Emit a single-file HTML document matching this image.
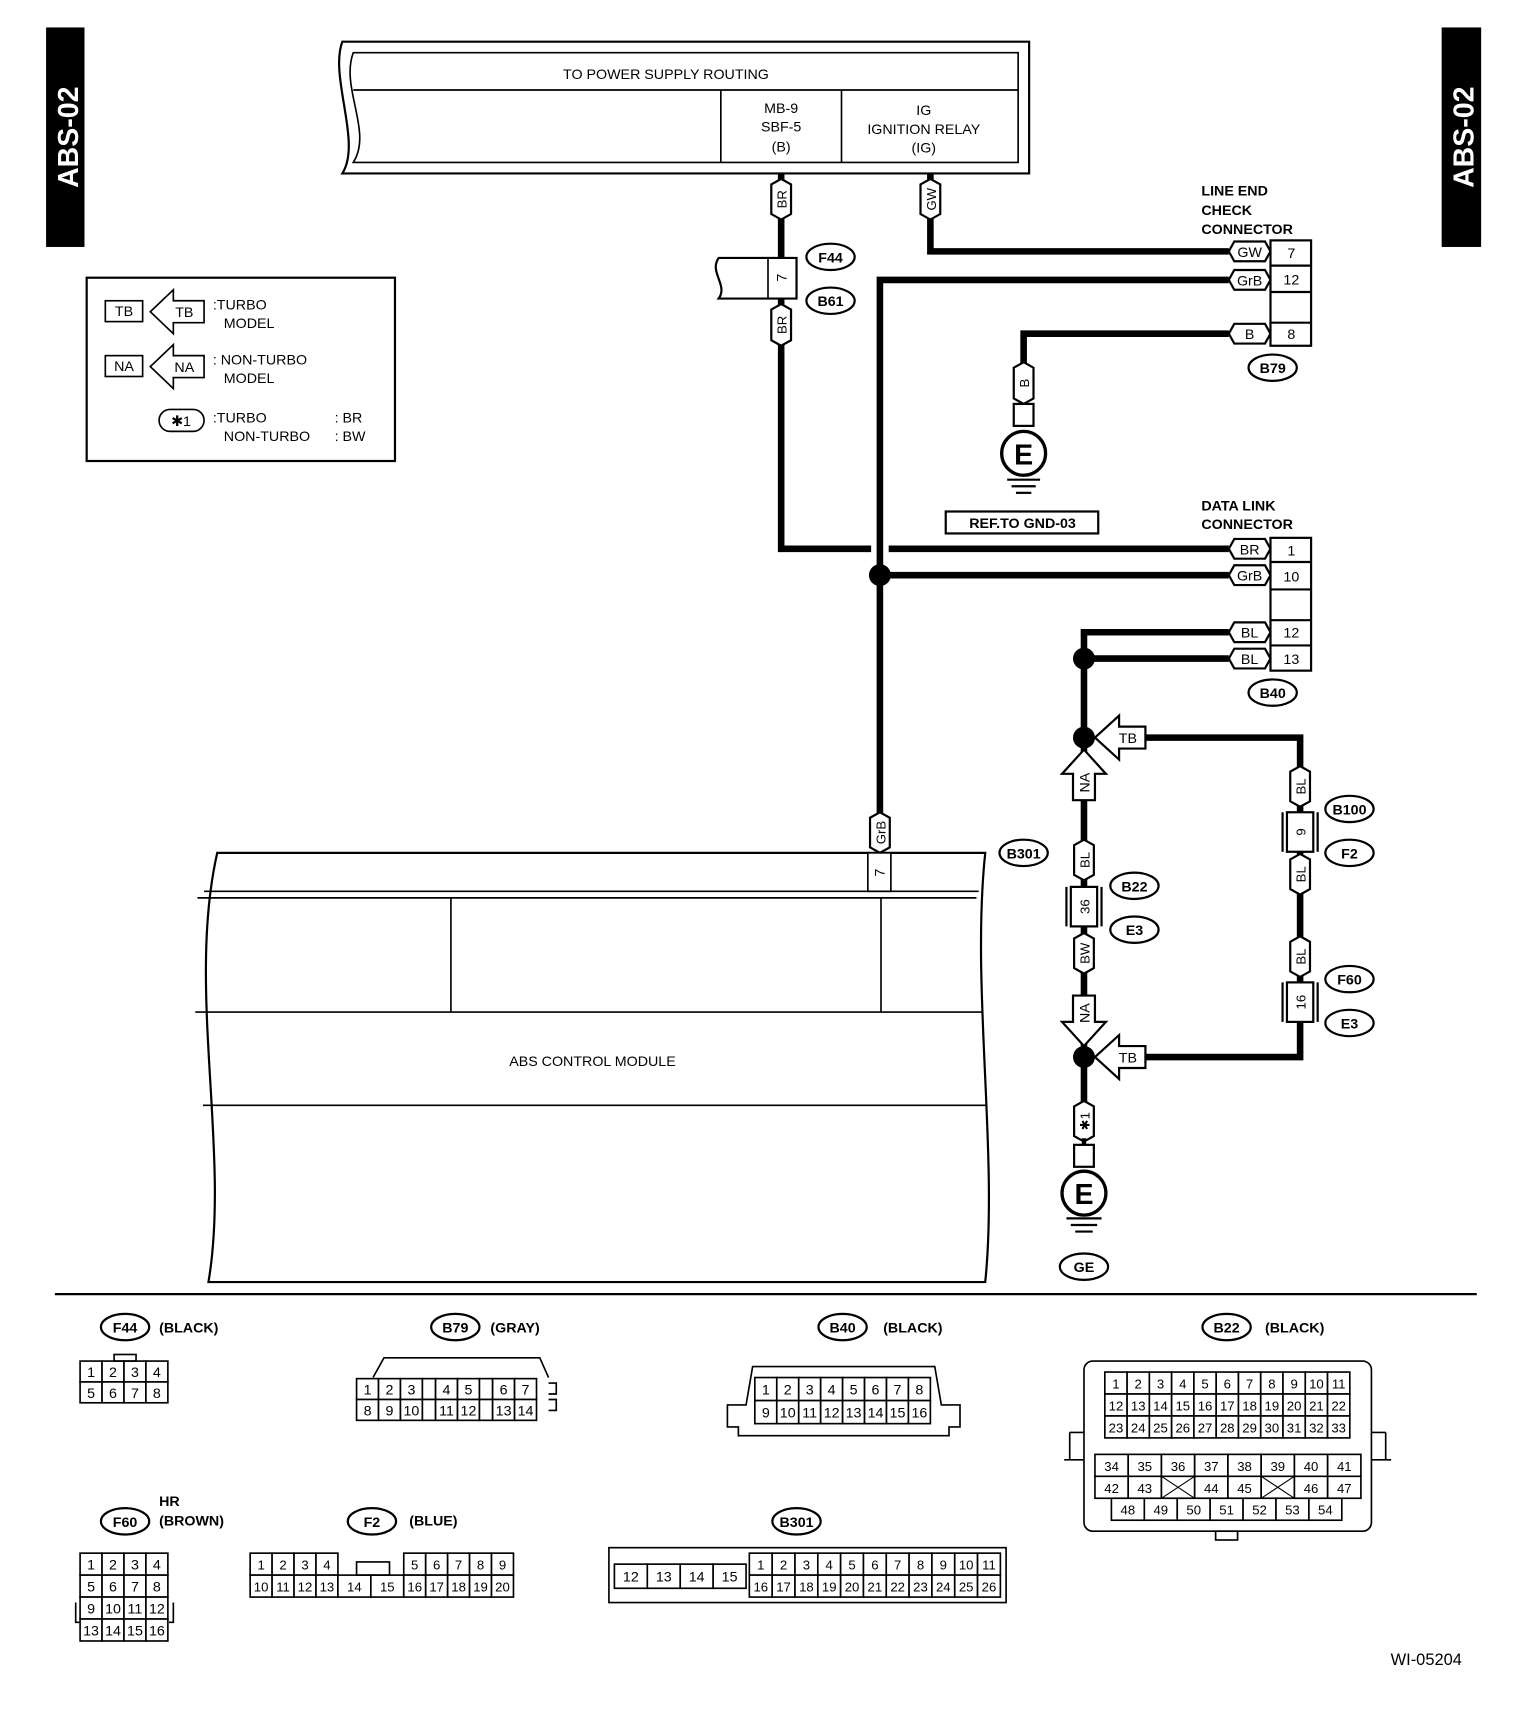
<!DOCTYPE html>
<html><head><meta charset="utf-8">
<style>
html,body{margin:0;padding:0;background:#fff;}
svg{display:block;font-family:"Liberation Sans",Arial,sans-serif;}
text{font-family:"Liberation Sans",Arial,sans-serif;fill:#000;}
</style></head>
<body>
<svg id="s" width="1536" height="1720" viewBox="0 0 1400 1567" preserveAspectRatio="none" xmlns="http://www.w3.org/2000/svg">
<rect width="1400" height="1567" fill="#fff"/>
<rect x="42" y="25" width="35" height="200" fill="#000"/>
<text transform="translate(71,125) rotate(-90)" text-anchor="middle" font-size="26" font-weight="bold" style="fill:#fff">ABS-02</text>
<rect x="1314" y="25" width="36" height="200" fill="#000"/>
<text transform="translate(1343,125) rotate(-90)" text-anchor="middle" font-size="26" font-weight="bold" style="fill:#fff">ABS-02</text>

<path d="M312,38 L938,38 L938,158 L312,158 C330,130 300,70 312,38 Z" fill="none" stroke="#000" stroke-width="2"/>
<path d="M322,48 L928,48 L928,148 L322,148 C340,120 310,80 322,48 Z" fill="none" stroke="#000" stroke-width="1.5"/>
<line x1="322" y1="82" x2="928" y2="82" stroke="#000" stroke-width="1.5"/>
<line x1="657" y1="82" x2="657" y2="148" stroke="#000" stroke-width="1.5"/>
<line x1="767" y1="82" x2="767" y2="148" stroke="#000" stroke-width="1.5"/>
<g font-size="13" text-anchor="middle">
<text x="607" y="72">TO POWER SUPPLY ROUTING</text>
<text x="712" y="103">MB-9</text><text x="712" y="120">SBF-5</text><text x="712" y="138">(B)</text>
<text x="842" y="105">IG</text><text x="842" y="122">IGNITION RELAY</text><text x="842" y="139">(IG)</text>
</g>

<rect x="79" y="253" width="281" height="167" fill="none" stroke="#000" stroke-width="2"/>
<g font-size="13">
<rect x="96" y="274" width="34" height="19" fill="none" stroke="#000" stroke-width="1.5"/><text x="113" y="288" text-anchor="middle">TB</text>
<path d="M137,284 L158,264 L158,274 L186,274 L186,294 L158,294 L158,304 Z" fill="none" stroke="#000" stroke-width="1.5"/><text x="168" y="289" text-anchor="middle">TB</text>
<text x="194" y="282">:TURBO</text><text x="204" y="299">MODEL</text>
<rect x="96" y="324" width="34" height="19" fill="none" stroke="#000" stroke-width="1.5"/><text x="113" y="338" text-anchor="middle">NA</text>
<path d="M137,334 L158,314 L158,324 L186,324 L186,344 L158,344 L158,354 Z" fill="none" stroke="#000" stroke-width="1.5"/><text x="168" y="339" text-anchor="middle">NA</text>
<text x="194" y="332">: NON-TURBO</text><text x="204" y="349">MODEL</text>
<rect x="145" y="373" width="41" height="20" rx="10" fill="none" stroke="#000" stroke-width="1.5"/><text x="165" y="388" text-anchor="middle">✱1</text>
<text x="194" y="385">:TURBO</text><text x="305" y="385">: BR</text>
<text x="204" y="402">NON-TURBO</text><text x="305" y="402">: BW</text>
</g>

<g stroke="#000" stroke-width="6" fill="none">
<path d="M712,158 V235 M712,272 V500 H794 M810,500 H1120"/>
<path d="M848,158 V229 H1120"/>
<path d="M1120,255 H802 V777"/>
<path d="M802,524 H1120"/>
<path d="M1120,304 H933 V335"/>
<path d="M1120,576 H988 V1005"/>
<path d="M988,600 H1120"/>
<path d="M1040,672 H1185 V963 H1040"/>
</g>
<circle cx="802" cy="524" r="10" fill="#000"/>
<circle cx="988" cy="600" r="10" fill="#000"/>
<circle cx="988" cy="672" r="10" fill="#000"/>
<circle cx="988" cy="963" r="10" fill="#000"/>

<g id="dyn"></g>

<path d="M655,235 H726 V272 H655 C664,260 646,248 655,235 Z" fill="#fff" stroke="#000" stroke-width="2"/>
<line x1="700" y1="235" x2="700" y2="272" stroke="#000" stroke-width="1.5"/>
<text transform="translate(717,253) rotate(-90)" font-size="13" text-anchor="middle">7</text>

<rect x="924" y="368" width="18" height="20" fill="#fff" stroke="#000" stroke-width="2"/>
<circle cx="933" cy="413" r="20" fill="#fff" stroke="#000" stroke-width="3"/>
<text x="933" y="423" text-anchor="middle" font-size="26" font-weight="bold">E</text>
<line x1="918" y1="437" x2="948" y2="437" stroke="#000" stroke-width="2"/>
<line x1="922" y1="443" x2="944" y2="443" stroke="#000" stroke-width="2"/>
<line x1="926" y1="449" x2="940" y2="449" stroke="#000" stroke-width="2"/>
<rect x="862" y="466" width="139" height="20" fill="#fff" stroke="#000" stroke-width="2"/>
<text x="932" y="481" text-anchor="middle" font-size="13" font-weight="bold">REF.TO GND-03</text>

<rect x="979" y="1043" width="18" height="20" fill="#fff" stroke="#000" stroke-width="2"/>
<line x1="988" y1="1037" x2="988" y2="1043" stroke="#000" stroke-width="4"/>
<circle cx="988" cy="1087" r="20" fill="#fff" stroke="#000" stroke-width="3"/>
<text x="988" y="1097" text-anchor="middle" font-size="26" font-weight="bold">E</text>
<line x1="972" y1="1110" x2="1004" y2="1110" stroke="#000" stroke-width="2"/>
<line x1="976" y1="1116" x2="1000" y2="1116" stroke="#000" stroke-width="2"/>
<line x1="980" y1="1122" x2="996" y2="1122" stroke="#000" stroke-width="2"/>

<g fill="#fff" stroke="#000" stroke-width="2">
<rect x="1158" y="219" width="37" height="96"/>
<line x1="1158" y1="242" x2="1195" y2="242"/><line x1="1158" y1="266" x2="1195" y2="266"/><line x1="1158" y1="294" x2="1195" y2="294"/>
<rect x="1158" y="490" width="37" height="121"/>
<line x1="1158" y1="512" x2="1195" y2="512"/><line x1="1158" y1="537" x2="1195" y2="537"/><line x1="1158" y1="565" x2="1195" y2="565"/><line x1="1158" y1="588" x2="1195" y2="588"/>
</g>
<g font-size="13" text-anchor="middle">
<text x="1177" y="235">7</text><text x="1177" y="259">12</text><text x="1177" y="309">8</text>
<text x="1177" y="506">1</text><text x="1177" y="530">10</text><text x="1177" y="581">12</text><text x="1177" y="605">13</text>
</g>
<g font-size="13" font-weight="bold">
<text x="1095" y="178">LINE END</text><text x="1095" y="196">CHECK</text><text x="1095" y="213">CONNECTOR</text>
<text x="1095" y="465">DATA LINK</text><text x="1095" y="482">CONNECTOR</text>
</g>

<path d="M198,777 L898,777 C885,900 910,1050 898,1168 L190,1168 C210,1050 170,900 198,777 Z" fill="#fff" stroke="#000" stroke-width="2"/>
<path d="M186,812 H892 M180,818 H890 M178,922 H896 M185,1007 H900" stroke="#000" stroke-width="1.5" fill="none"/>
<line x1="411" y1="818" x2="411" y2="922" stroke="#000" stroke-width="1.5"/>
<line x1="803" y1="818" x2="803" y2="922" stroke="#000" stroke-width="1.5"/>
<rect x="791" y="777" width="21" height="35" fill="#fff" stroke="#000" stroke-width="1.5"/>
<text transform="translate(806,795) rotate(-90)" font-size="13" text-anchor="middle">7</text>
<text x="540" y="971" font-size="13" text-anchor="middle">ABS CONTROL MODULE</text>

<line x1="50" y1="1179" x2="1346" y2="1179" stroke="#000" stroke-width="2"/>
<text x="1300" y="1517" font-size="15" text-anchor="middle">WI-05204</text>

<g fill="none" stroke="#000" stroke-width="1.5">
<rect x="104" y="1234" width="20" height="6"/>
<path d="M340,1255 L350,1237 L492,1237 L500,1255"/>
<path d="M500,1260 h7 v10 h-7 M500,1275 h7 v10 h-7"/>
<path d="M663,1280 L680,1280 L686,1245 L852,1245 L858,1280 L875,1280 L875,1300 L865,1300 L865,1308 L673,1308 L673,1300 L663,1300 Z"/>
<rect x="988" y="1240" width="262" height="155" rx="8"/>
<path d="M975,1305 h13 M975,1305 v25 M970,1330 h18 M1250,1305 h13 M1263,1305 v25 M1250,1330 h18"/>
<rect x="1108" y="1395" width="20" height="8"/>
<path d="M69,1460 v18 h4 M158,1460 v18 h-4"/>
<rect x="325" y="1423" width="30" height="12"/>
<rect x="555" y="1410" width="362" height="50"/>
</g>
<g font-size="13" font-weight="bold">
<text x="145" y="1214">(BLACK)</text>
<text x="447" y="1214">(GRAY)</text>
<text x="805" y="1214">(BLACK)</text>
<text x="1153" y="1214">(BLACK)</text>
<text x="145" y="1372">HR</text>
<text x="145" y="1390">(BROWN)</text>
<text x="373" y="1390">(BLUE)</text>
</g>
</svg>
<script>
const NS="http://www.w3.org/2000/svg";
const g=document.getElementById('dyn');
const svg=document.getElementById('s');
function el(t,a,txt,parent){const e=document.createElementNS(NS,t);for(const k in a)e.setAttribute(k,a[k]);if(txt!==undefined)e.textContent=txt;(parent||g).appendChild(e);return e;}
function vpill(x,y1,y2,t){el('path',{d:`M${x-9},${y1+5} L${x},${y1} L${x+9},${y1+5} L${x+9},${y2-5} L${x},${y2} L${x-9},${y2-5} Z`,fill:'#fff',stroke:'#000','stroke-width':2});
 el('text',{transform:`translate(${x+5},${(y1+y2)/2}) rotate(-90)`,'font-size':12,'text-anchor':'middle'},t);}
function hpill(x1,x2,y,t){el('path',{d:`M${x1+5},${y-9} L${x2-5},${y-9} L${x2},${y} L${x2-5},${y+9} L${x1+5},${y+9} L${x1},${y} Z`,fill:'#fff',stroke:'#000','stroke-width':2});
 el('text',{x:(x1+x2)/2,y:y+5,'font-size':13,'text-anchor':'middle'},t);}
function oval(cx,cy,t,w){w=w||44;el('ellipse',{cx,cy,rx:w/2,ry:12,fill:'#fff',stroke:'#000','stroke-width':2},undefined,svg);
 el('text',{x:cx,y:cy+5,'font-size':13,'font-weight':'bold','text-anchor':'middle'},t,svg);}
vpill(712,163,200,'BR');vpill(712,277,315,'BR');vpill(848,163,200,'GW');
vpill(802,740,777,'GrB');vpill(933,330,368,'B');
vpill(988,765,802,'BL');vpill(988,850,887,'BW');vpill(988,1003,1040,'✱1');
vpill(1185,698,735,'BL');vpill(1185,778,815,'BL');vpill(1185,853,890,'BL');
hpill(1120,1158,229,'GW');hpill(1120,1158,255,'GrB');hpill(1120,1158,304,'B');
hpill(1120,1158,500,'BR');hpill(1120,1158,524,'GrB');hpill(1120,1158,576,'BL');hpill(1120,1158,600,'BL');
function vconn(x,y1,y2,t){el('rect',{x:x-12,y:y1,width:24,height:y2-y1,fill:'#fff',stroke:'#000','stroke-width':2});
 el('line',{x1:x-16,y1:y1,x2:x-16,y2:y2,stroke:'#000','stroke-width':2});el('line',{x1:x+16,y1:y1,x2:x+16,y2:y2,stroke:'#000','stroke-width':2});
 el('text',{transform:`translate(${x+5},${(y1+y2)/2}) rotate(-90)`,'font-size':12,'text-anchor':'middle'},t);}
vconn(988,808,844,'36');vconn(1185,740,776,'9');vconn(1185,895,931,'16');
function larrow(x,y,t){el('path',{d:`M${x},${y} L${x+22},${y-20} L${x+22},${y-10} L${x+46},${y-10} L${x+46},${y+10} L${x+22},${y+10} L${x+22},${y+20} Z`,fill:'#fff',stroke:'#000','stroke-width':2});
 el('text',{x:x+30,y:y+5,'font-size':13,'text-anchor':'middle'},t);}
function uarrow(x,y,t,down){const s=down?-1:1;el('path',{d:`M${x},${y} L${x-20},${y+22*s} L${x-10},${y+22*s} L${x-10},${y+46*s} L${x+10},${y+46*s} L${x+10},${y+22*s} L${x+20},${y+22*s} Z`,fill:'#fff',stroke:'#000','stroke-width':2});
 el('text',{transform:`translate(${x+5},${y+30*s}) rotate(-90)`,'font-size':13,'text-anchor':'middle'},t);}
larrow(998,672,'TB');larrow(998,963,'TB');uarrow(988,683,'NA');uarrow(988,953,'NA',true);
oval(757,234,'F44');oval(757,274,'B61');oval(1160,335,'B79');oval(1160,631,'B40');
oval(1230,737,'B100');oval(1230,777,'F2');oval(1034,807,'B22');oval(1034,847,'E3');
oval(1230,892,'F60');oval(1230,932,'E3');oval(933,777,'B301');oval(988,1154,'GE');
oval(114,1209,'F44');oval(415,1209,'B79');oval(768,1209,'B40');oval(1118,1209,'B22');
oval(114,1386,'F60');oval(339,1386,'F2');oval(726,1386,'B301');
function grid(x,y,cw,ch,rows,fs){rows.forEach((r,i)=>{let cx=x;r.forEach(c=>{let w=cw,lab=c;if(typeof c==='object'){w=c.w;lab=c.t;}
 if(lab!==null){el('rect',{x:cx,y:y+i*ch,width:w,height:ch,fill:'#fff',stroke:'#000','stroke-width':1.5});
 if(lab==='X'){el('path',{d:`M${cx},${y+i*ch} L${cx+w},${y+(i+1)*ch} M${cx+w},${y+i*ch} L${cx},${y+(i+1)*ch}`,stroke:'#000','stroke-width':1});}
 else el('text',{x:cx+w/2,y:y+i*ch+ch/2+5,'font-size':fs||13,'text-anchor':'middle'},lab);}
 cx+=w;});});}
const r=(a,b)=>{const o=[];for(let i=a;i<=b;i++)o.push(String(i));return o;};
grid(73,1240,20,19,[r(1,4),r(5,8)]);
grid(73,1415,20,20,[r(1,4),r(5,8),r(9,12),r(13,16)]);
grid(325,1256,20,19,[['1','2','3',{w:12,t:''},'4','5',{w:12,t:''},'6','7'],['8','9','10',{w:12,t:''},'11','12',{w:12,t:''},'13','14']]);
grid(688,1255,20,21,[r(1,8),r(9,16)]);
grid(1007,1250,20.3,20,[r(1,11),r(12,22),r(23,33)],12);
grid(998,1325,30.3,20,[r(34,41),['42','43','X','44','45','X','46','47']],12);
grid(1013,1365,30,20,[r(48,54)],12);
grid(228,1415,20,20,[['1','2','3','4',{w:60,t:null},'5','6','7','8','9'],['10','11','12','13',{w:30,t:'14'},{w:30,t:'15'},'16','17','18','19','20']],12);
grid(560,1425,30,22,[['12','13','14','15']]);
grid(683,1415,20.8,20,[r(1,11),r(16,26)],12);
</script>
</body></html>
